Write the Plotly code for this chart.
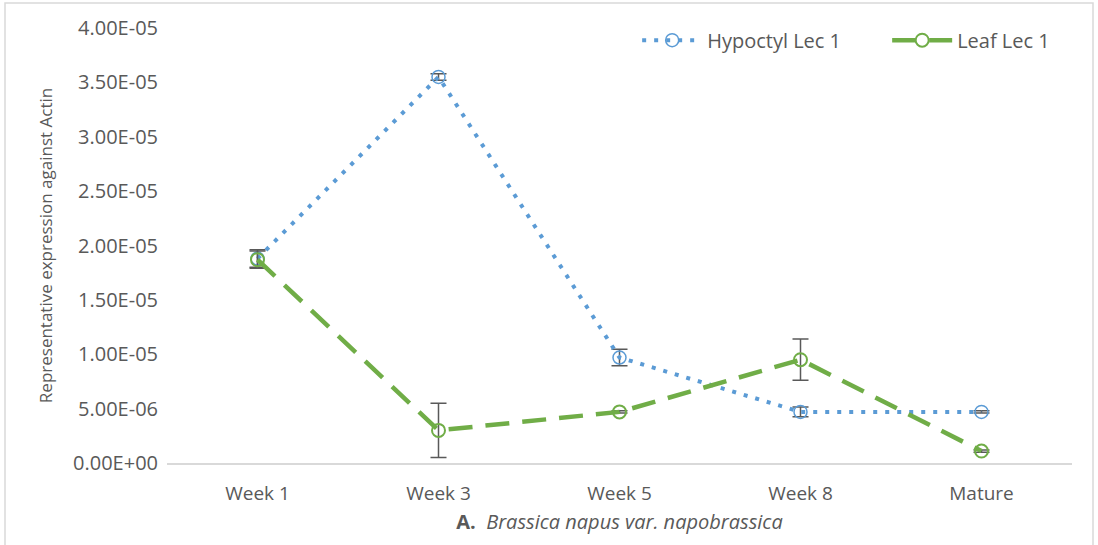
import plotly.graph_objects as go

weeks = ["Week 1", "Week 3", "Week 5", "Week 8", "Mature"]

hypocotyl = [1.88e-5, 3.55e-5, 9.7e-6, 4.7e-6, 4.7e-6]
hypocotyl_err = [8e-7, 3e-7, 7.5e-7, 4.5e-7, 1e-7]

leaf = [1.87e-5, 3.0e-6, 4.7e-6, 9.5e-6, 1.1e-6]
leaf_err = [8e-7, 2.5e-6, 1e-7, 1.9e-6, 1e-7]

y_ticks = [0, 5e-6, 1e-5, 1.5e-5, 2e-5, 2.5e-5, 3e-5, 3.5e-5, 4e-5]
y_tick_labels = ["0.00E+00", "5.00E-06", "1.00E-05", "1.50E-05", "2.00E-05",
                 "2.50E-05", "3.00E-05", "3.50E-05", "4.00E-05"]

BLUE = '#5B9BD5'
GREEN = '#70AD47'
GREY = '#595959'
FONT = 'Open Sans'

fig = go.Figure()

fig.add_trace(go.Scatter(
    x=weeks, y=hypocotyl,
    mode='lines+markers',
    name='Hypoctyl Lec 1',
    line=dict(color=BLUE, width=4, dash='4px,8px'),
    marker=dict(symbol='circle-open', size=13, color=BLUE, line=dict(width=1.5)),
    error_y=dict(type='data', array=hypocotyl_err, color=GREY, thickness=1.5, width=8),
))

fig.add_trace(go.Scatter(
    x=weeks, y=leaf,
    mode='lines+markers',
    name='Leaf Lec 1',
    line=dict(color=GREEN, width=4.5, dash='24px,13px'),
    marker=dict(symbol='circle-open', size=13, color=GREEN, line=dict(width=2)),
    error_y=dict(type='data', array=leaf_err, color=GREY, thickness=1.5, width=8),
))

fig.update_layout(
    width=1098, height=545,
    margin=dict(l=167, r=26, t=28, b=82, autoexpand=False),
    paper_bgcolor='white',
    plot_bgcolor='white',
    font=dict(family=FONT, color=GREY, size=16),
    showlegend=True,
    legend=dict(
        orientation='h', x=1.072, xanchor='right', y=0.972, yanchor='middle',
        font=dict(size=20, color=GREY), itemwidth=60, entrywidth=175,
        bgcolor='rgba(0,0,0,0)',
    ),
    xaxis=dict(
        type='category', range=[-0.5, 4.5], automargin=False,
        showgrid=False, showline=True, linecolor='#D9D9D9', linewidth=1.5,
        ticks='', ticklabelstandoff=12, tickfont=dict(size=19, color=GREY),
        title=dict(
            text='<b>A.</b>  <i>Brassica napus var. napobrassica</i>',
            font=dict(size=20, color=GREY), standoff=10,
        ),
    ),
    yaxis=dict(
        range=[0, 4e-5], showgrid=False, zeroline=False, showline=False,
        automargin=False,
        tickvals=y_ticks, ticktext=y_tick_labels, ticks='',
        ticklabelstandoff=8,
        tickfont=dict(size=20, color=GREY),
        title=dict(text='Representative expression against Actin',
                   font=dict(size=17, color=GREY), standoff=16),
    ),
    shapes=[dict(
        type='rect', xref='paper', yref='paper',
        x0=-162 / 905, x1=1 + 21 / 905, y0=-120 / 435, y1=1 + 25 / 435,
        line=dict(color='#D9D9D9', width=1.5), layer='below',
    )],
)

fig.write_html("out.html", config={'displayModeBar': False},
               post_script="document.body.style.margin='0';")
